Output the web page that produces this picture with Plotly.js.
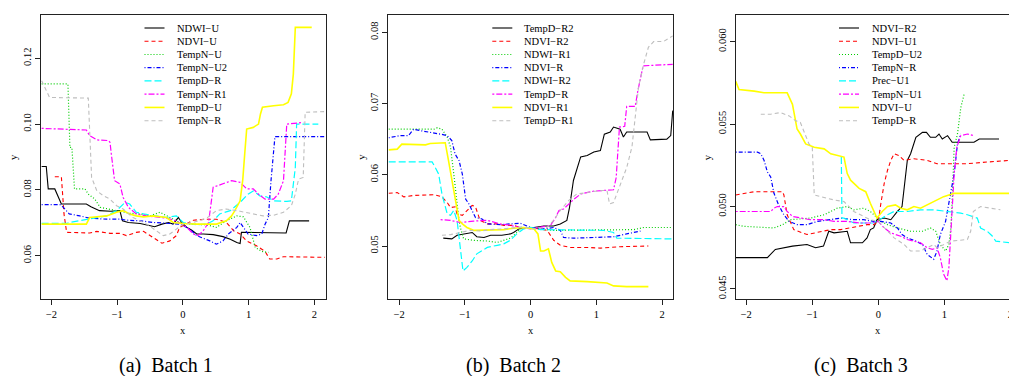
<!DOCTYPE html>
<html><head><meta charset="utf-8">
<script src="https://cdn.plot.ly/plotly-3.0.1.min.js"></script>
<style>html,body{margin:0;padding:0;overflow:hidden;background:#fff}#chart{width:1030px;height:376px}</style>
</head><body><div id="chart"></div>
<script>
// ---------- Batch 1 ----------
const b1Names = ["NDWI\u2212U","NDVI\u2212U","TempN\u2212U","TempN\u2212U2","TempD\u2212R","TempN\u2212R1","TempD\u2212U","TempN\u2212R"];
const b1_NDWI_U_x = [-2.15,-2.08,-2.05,-1.95,-1.85,-1.47,-1.40,-1.27,-1.10,-0.96,-0.92,-0.83,-0.65,-0.50,-0.43,-0.32,-0.22,-0.15,-0.07,-0.02,0.06,0.13,0.21,0.31,0.46,0.61,0.72,0.82,0.87,0.89,1.07,1.38,1.57,1.62,1.92];
const b1_NDWI_U_y = [0.0871,0.0871,0.0803,0.0803,0.0757,0.0757,0.0749,0.0737,0.0735,0.0737,0.0706,0.0701,0.0698,0.0691,0.0688,0.0696,0.0701,0.0696,0.0716,0.0701,0.0686,0.0678,0.0666,0.0666,0.0664,0.0658,0.0650,0.0640,0.0637,0.0671,0.0671,0.0669,0.0669,0.0706,0.0706];
const b1_NDVI_U_x = [-1.95,-1.85,-1.81,-1.77,-1.42,-1.31,-1.11,-0.96,-0.86,-0.71,-0.60,-0.45,-0.32,-0.20,-0.10,-0.05,0.06,0.16,0.36,0.51,0.66,0.77,0.87,0.97,1.12,1.25,1.32,1.43,1.53,2.16];
const b1_NDVI_U_y = [0.0840,0.0840,0.0727,0.0671,0.0669,0.0674,0.0668,0.0668,0.0661,0.0671,0.0674,0.0654,0.0638,0.0645,0.0661,0.0686,0.0698,0.0708,0.0711,0.0711,0.0701,0.0676,0.0666,0.0645,0.0630,0.0613,0.0590,0.0590,0.0597,0.0595];
const b1_TempN_U_x = [-2.15,-1.75,-1.72,-1.69,-1.65,-1.49,-1.44,-1.34,-1.26,-1.01,-0.81,-0.65,-0.50,-0.35,-0.25,-0.15,-0.05,0.11,0.36,0.51,0.66,0.82,0.92,1.02,1.10,1.20,1.30];
const b1_TempN_U_y = [0.1122,0.1122,0.0929,0.0929,0.0803,0.0803,0.0787,0.0772,0.0747,0.0737,0.0729,0.0727,0.0721,0.0732,0.0721,0.0711,0.0701,0.0696,0.0694,0.0686,0.0706,0.0721,0.0718,0.0686,0.0625,0.0613,0.0610];
const b1_TempN_U2_x = [-2.15,-1.87,-1.82,-1.73,-1.57,-1.42,-1.16,-0.96,-0.86,-0.65,-0.45,-0.25,-0.05,0.06,0.13,0.21,0.31,0.41,0.51,0.61,0.69,0.82,0.87,0.92,0.99,1.12,1.20,1.25,1.30,1.34,1.40,2.16];
const b1_TempN_U2_y = [0.0755,0.0755,0.0747,0.0727,0.0721,0.0714,0.0711,0.0711,0.0708,0.0706,0.0701,0.0698,0.0696,0.0686,0.0676,0.0661,0.0654,0.0645,0.0635,0.0645,0.0666,0.0686,0.0701,0.0686,0.0666,0.0661,0.0666,0.0696,0.0716,0.0828,0.0962,0.0962];
const b1_TempD_R_x = [-2.15,-1.77,-1.72,-1.52,-1.31,-1.16,-1.01,-0.88,-0.81,-0.71,-0.60,-0.40,-0.25,-0.10,0.005,0.21,0.36,0.46,0.56,0.72,0.87,0.99,1.07,1.17,1.27,1.38,1.58,1.65,1.71,1.73,2.06];
const b1_TempD_R_y = [0.0698,0.0698,0.0701,0.0708,0.0714,0.0721,0.0737,0.0762,0.0757,0.0732,0.0727,0.0721,0.0716,0.0721,0.0701,0.0694,0.0696,0.0706,0.0727,0.0737,0.0762,0.0787,0.0797,0.0782,0.0779,0.0767,0.0765,0.0767,0.0868,0.1000,0.1000];
const b1_TempN_R1_x = [-2.15,-1.47,-1.42,-1.31,-1.14,-1.11,-1.09,-1.04,-0.96,-0.91,-0.83,-0.71,-0.55,-0.35,-0.25,-0.10,0.06,0.16,0.23,0.31,0.39,0.46,0.59,0.74,0.87,0.97,1.07,1.15,1.25,1.38,1.45,1.53,1.58,1.83];
const b1_TempN_R1_y = [0.0987,0.0982,0.0965,0.0952,0.0950,0.0945,0.0909,0.0828,0.0818,0.0777,0.0747,0.0727,0.0721,0.0716,0.0714,0.0706,0.0686,0.0666,0.0661,0.0676,0.0701,0.0808,0.0818,0.0828,0.0823,0.0803,0.0803,0.0787,0.0772,0.0772,0.0787,0.0828,0.1000,0.1005];
const b1_TempD_U_x = [-2.15,-1.47,-1.42,-1.16,-1.01,-0.91,-0.81,-0.71,-0.60,-0.45,-0.25,-0.15,0.005,0.21,0.51,0.66,0.74,0.79,0.87,0.91,0.94,0.97,1.07,1.15,1.18,1.21,1.38,1.53,1.60,1.65,1.68,1.71,1.96];
const b1_TempD_U_y = [0.0696,0.0696,0.0716,0.0721,0.0732,0.0737,0.0727,0.0721,0.0718,0.0721,0.0716,0.0701,0.0698,0.0696,0.0696,0.0706,0.0721,0.0737,0.0767,0.0830,0.0909,0.0985,0.0990,0.1000,0.1031,0.1051,0.1056,0.1059,0.1066,0.1092,0.1152,0.1294,0.1294];
const b1_TempN_R_x = [-2.15,-2.03,-1.44,-1.42,-1.39,-1.31,-1.21,-1.11,-1.01,-0.91,-0.76,-0.55,-0.40,-0.30,-0.20,-0.10,0.005,0.16,0.36,0.51,0.66,0.87,1.07,1.22,1.38,1.53,1.65,1.71,1.76,1.83,1.86,2.16];
const b1_TempN_R_y = [0.1132,0.1081,0.1079,0.0980,0.0838,0.0797,0.0782,0.0772,0.0752,0.0742,0.0716,0.0696,0.0676,0.0661,0.0666,0.0681,0.0696,0.0701,0.0714,0.0737,0.0742,0.0735,0.0727,0.0721,0.0723,0.0732,0.0752,0.0787,0.0833,0.0838,0.1036,0.1038];

// ---------- Batch 2 ----------
const b2Names = ["TempD\u2212R2","NDVI\u2212R2","NDWI\u2212R1","NDVI\u2212R","NDWI\u2212R2","TempD\u2212R","NDVI\u2212R1","TempD\u2212R1"];
const b2_TempD_R2_x = [-1.33,-1.20,-1.12,-1.02,-0.89,-0.82,-0.71,-0.61,-0.44,-0.31,-0.26,-0.18,-0.11,0.05,0.20,0.35,0.45,0.55,0.59,0.65,0.70,0.76,0.86,0.96,1.06,1.12,1.21,1.26,1.36,1.41,1.46,1.77,1.82,2.07,2.13,2.16];
const b2_TempD_R2_y = [0.0511,0.0510,0.0515,0.0517,0.0519,0.0513,0.0512,0.0515,0.0515,0.0517,0.0519,0.0524,0.0526,0.0526,0.0528,0.0528,0.0531,0.0536,0.0554,0.0592,0.0606,0.0625,0.0627,0.0632,0.0634,0.0657,0.0660,0.0667,0.0664,0.0653,0.0660,0.0660,0.0649,0.0650,0.0655,0.0690];
const b2_NDVI_R2_x = [-2.16,-2.03,-1.93,-1.78,-1.47,-1.35,-1.27,-1.22,-1.15,-1.12,-1.04,-0.97,-0.89,-0.84,-0.77,-0.66,-0.51,-0.41,-0.26,-0.16,0,0.15,0.25,0.35,0.45,0.60,0.86,1.06,1.36,1.79];
const b2_NDVI_R2_y = [0.0574,0.0575,0.0569,0.0571,0.0572,0.0569,0.0561,0.0554,0.0555,0.0545,0.0543,0.0550,0.0557,0.0555,0.0536,0.0531,0.0531,0.0529,0.0529,0.0526,0.0525,0.0524,0.0522,0.0508,0.0501,0.0498,0.0498,0.0497,0.0499,0.0500];
const b2_NDWI_R1_x = [-2.16,-1.47,-1.42,-1.35,-1.27,-1.22,-1.17,-1.13,-1.09,-1.07,-1.02,-0.87,-0.66,-0.51,-0.41,-0.31,-0.23,-0.16,-0.06,0.10,0.35,0.55,0.76,1.06,1.36,1.57,1.72,2.16];
const b2_NDWI_R1_y = [0.0664,0.0664,0.0666,0.0664,0.0653,0.0639,0.0601,0.0564,0.0536,0.0526,0.0510,0.0508,0.0507,0.0505,0.0508,0.0511,0.0517,0.0524,0.0526,0.0524,0.0522,0.0522,0.0523,0.0523,0.0522,0.0523,0.0526,0.0526];
const b2_NDVI_R_x = [-2.16,-1.98,-1.86,-1.78,-1.68,-1.53,-1.37,-1.27,-1.20,-1.15,-1.09,-1.04,-0.99,-0.94,-0.89,-0.84,-0.74,-0.66,-0.46,-0.31,-0.16,0,0.20,0.35,0.45,0.50,0.65,0.96,1.26,1.46,1.67];
const b2_NDVI_R_y = [0.0652,0.0655,0.0655,0.0664,0.0662,0.0660,0.0657,0.0655,0.0648,0.0629,0.0620,0.0601,0.0566,0.0559,0.0550,0.0540,0.0538,0.0531,0.0530,0.0531,0.0532,0.0526,0.0524,0.0526,0.0522,0.0512,0.0511,0.0512,0.0513,0.0517,0.0521];
const b2_NDWI_R2_x = [-2.16,-1.50,-1.45,-1.40,-1.35,-1.27,-1.22,-1.17,-1.12,-1.07,-1.03,-0.97,-0.89,-0.82,-0.74,-0.66,-0.51,-0.41,-0.31,-0.21,-0.11,0,0.15,0.35,0.60,0.86,1.11,1.26,1.31,2.16];
const b2_NDWI_R2_y = [0.0618,0.0618,0.0610,0.0601,0.0573,0.0545,0.0543,0.0550,0.0536,0.0498,0.0465,0.0470,0.0479,0.0489,0.0493,0.0498,0.0501,0.0503,0.0508,0.0517,0.0524,0.0526,0.0523,0.0523,0.0523,0.0522,0.0522,0.0519,0.0511,0.0510];
const b2_TempD_R_x = [-1.37,-1.22,-1.07,-0.87,-0.66,-0.56,-0.46,-0.31,-0.16,-0.005,0.15,0.30,0.38,0.43,0.50,0.65,0.76,0.86,0.96,1.26,1.30,1.35,1.43,1.46,1.59,1.63,1.71,2.16];
const b2_TempD_R_y = [0.0537,0.0536,0.0533,0.0535,0.0536,0.0533,0.0531,0.0529,0.0526,0.0524,0.0526,0.0529,0.0540,0.0550,0.0552,0.0565,0.0573,0.0575,0.0577,0.0579,0.0596,0.0667,0.0668,0.0696,0.0696,0.0718,0.0753,0.0755];
const b2_NDVI_R1_x = [-2.16,-2.03,-1.96,-1.78,-1.60,-1.53,-1.30,-1.25,-1.20,-1.15,-1.09,-1.04,-0.97,-0.87,-0.56,-0.41,-0.26,-0.11,0.05,0.11,0.15,0.20,0.27,0.32,0.38,0.45,0.53,0.60,0.86,1.06,1.16,1.26,1.46,1.79];
const b2_NDVI_R1_y = [0.0635,0.0636,0.0643,0.0643,0.0642,0.0644,0.0645,0.0620,0.0592,0.0564,0.0536,0.0531,0.0526,0.0522,0.0522,0.0523,0.0525,0.0526,0.0524,0.0517,0.0493,0.0493,0.0496,0.0477,0.0465,0.0464,0.0456,0.0451,0.0450,0.0449,0.0448,0.0444,0.0443,0.0443];
const b2_TempD_R1_x = [-1.35,-1.22,-1.12,-0.92,-0.77,-0.61,-0.41,-0.26,-0.11,0.05,0.25,0.35,0.45,0.58,0.70,0.86,1.06,1.16,1.20,1.26,1.31,1.39,1.46,1.54,1.59,1.64,1.72,1.79,1.87,2.02,2.16];
const b2_TempD_R1_y = [0.0515,0.0516,0.0518,0.0522,0.0521,0.0523,0.0524,0.0526,0.0527,0.0524,0.0526,0.0536,0.0550,0.0564,0.0573,0.0575,0.0578,0.0578,0.0559,0.0561,0.0573,0.0592,0.0610,0.0639,0.0685,0.0723,0.0756,0.0779,0.0787,0.0787,0.0795];

// ---------- Batch 3 ----------
const b3Names = ["NDVI\u2212R2","NDVI\u2212U1","TempD\u2212U2","TempN\u2212R","Prec\u2212U1","TempN\u2212U1","NDVI\u2212U","TempD\u2212R"];
const b3_NDVI_R2_x = [-2.16,-1.68,-1.56,-1.43,-1.30,-1.08,-0.95,-0.83,-0.75,-0.67,-0.52,-0.47,-0.42,-0.24,-0.17,-0.12,-0.07,-0.02,0.09,0.19,0.29,0.36,0.44,0.49,0.57,0.67,0.73,0.79,0.87,0.92,0.97,1.05,1.12,1.45,1.53,1.83];
const b3_NDVI_R2_y = [0.0469,0.0469,0.0474,0.0475,0.0476,0.0477,0.0475,0.0476,0.0485,0.0484,0.0485,0.0485,0.0478,0.0478,0.0481,0.0486,0.0487,0.0492,0.0493,0.0492,0.0497,0.0500,0.0528,0.0532,0.0542,0.0545,0.0545,0.0542,0.0542,0.0544,0.0541,0.0543,0.0539,0.0539,0.0541,0.0541];
const b3_NDVI_U1_x = [-2.16,-1.88,-1.45,-1.43,-1.38,-1.28,-1.08,-0.87,-0.72,-0.57,-0.42,-0.17,-0.07,0,0.04,0.09,0.14,0.19,0.24,0.31,0.39,0.54,0.74,0.89,1.05,1.35,1.65,2.0];
const b3_NDVI_U1_y = [0.0507,0.0509,0.0509,0.0507,0.0495,0.0486,0.0483,0.0485,0.0486,0.0486,0.0487,0.0489,0.0489,0.0491,0.0502,0.0514,0.0522,0.0528,0.0532,0.0531,0.0528,0.0529,0.0528,0.0526,0.0526,0.0526,0.0527,0.0528];
const b3_TempD_U2_x = [-2.16,-2.04,-1.58,-1.45,-1.33,-1.03,-0.82,-0.62,-0.47,-0.37,-0.22,-0.12,-0.04,0.04,0.14,0.29,0.49,0.67,0.79,0.87,0.94,1.02,1.07,1.10,1.12,1.15,1.20,1.25,1.30];
const b3_TempD_U2_y = [0.0489,0.0488,0.0487,0.0489,0.0492,0.0493,0.0495,0.0499,0.0500,0.0498,0.0499,0.0497,0.0494,0.0491,0.0489,0.0487,0.0485,0.0485,0.0487,0.0485,0.0477,0.0473,0.0477,0.0487,0.0504,0.0536,0.0544,0.0560,0.0568];
const b3_TempN_R_x = [-2.16,-1.83,-1.78,-1.73,-1.68,-1.63,-1.58,-1.51,-1.43,-1.35,-1.23,-1.08,-0.92,-0.72,-0.57,-0.37,-0.22,-0.07,0.04,0.19,0.29,0.36,0.44,0.57,0.67,0.74,0.84,0.89,0.94,1.02,1.10,1.15,1.20,1.25];
const b3_TempN_R_y = [0.0533,0.0533,0.0532,0.0528,0.0521,0.0518,0.0508,0.0501,0.0495,0.0491,0.0489,0.0489,0.0491,0.0492,0.0493,0.0492,0.0492,0.0491,0.0491,0.0490,0.0487,0.0483,0.0481,0.0479,0.0477,0.0471,0.0468,0.0473,0.0483,0.0491,0.0508,0.0520,0.0538,0.0544];
const b3_Prec_U1_x = [-0.56,-0.55,-0.52,-0.37,-0.22,-0.07,0,0.06,0.14,0.24,0.44,0.64,0.84,1.05,1.25,1.35,1.50,1.55,1.65,1.73,1.78,2.0];
const b3_Prec_U1_y = [0.0530,0.0493,0.0493,0.0490,0.0490,0.0490,0.0492,0.0493,0.0495,0.0497,0.0497,0.0498,0.0498,0.0497,0.0496,0.0495,0.0493,0.0487,0.0485,0.0482,0.0479,0.0478];
const b3_TempN_U1_x = [-2.16,-1.63,-1.58,-1.53,-1.43,-1.38,-1.30,-1.18,-1.03,-0.82,-0.67,-0.47,-0.27,-0.12,0,0.09,0.19,0.34,0.44,0.54,0.64,0.74,0.82,0.89,0.94,0.99,1.04,1.07,1.11,1.15,1.19,1.25,1.35,1.45];
const b3_TempN_U1_y = [0.0497,0.0497,0.0499,0.0500,0.0500,0.0497,0.0494,0.0493,0.0492,0.0492,0.0491,0.0491,0.0490,0.0490,0.0491,0.0487,0.0484,0.0482,0.0480,0.0479,0.0478,0.0475,0.0474,0.0475,0.0469,0.0459,0.0455,0.0463,0.0491,0.0520,0.0536,0.0543,0.0544,0.0543];
const b3_NDVI_U_x = [-2.16,-2.11,-1.88,-1.73,-1.58,-1.38,-1.30,-1.23,-1.18,-1.10,-0.97,-0.82,-0.72,-0.60,-0.52,-0.47,-0.42,-0.29,-0.19,-0.12,-0.02,0.06,0.14,0.26,0.34,0.44,0.54,0.64,0.74,0.89,0.99,1.15,1.35,2.0];
const b3_NDVI_U_y = [0.0576,0.0571,0.0570,0.0569,0.0569,0.0569,0.0562,0.0547,0.0544,0.0538,0.0536,0.0535,0.0532,0.0531,0.0530,0.0520,0.0516,0.0511,0.0509,0.0502,0.0493,0.0497,0.0500,0.0501,0.0499,0.0498,0.0500,0.0499,0.0501,0.0504,0.0506,0.0508,0.0508,0.0508];
const b3_TempD_R_x = [-1.78,-1.63,-1.48,-1.35,-1.25,-1.18,-1.13,-1.05,-1.00,-0.97,-0.87,-0.77,-0.67,-0.52,-0.47,-0.37,-0.27,-0.12,0,0.09,0.24,0.39,0.49,0.64,0.74,0.84,0.89,0.99,1.10,1.35,1.40,1.44,1.55,1.70,1.85];
const b3_TempD_R_y = [0.0556,0.0556,0.0557,0.0555,0.0552,0.0551,0.0546,0.0538,0.0536,0.0507,0.0506,0.0505,0.0504,0.0503,0.0501,0.0497,0.0495,0.0492,0.0491,0.0487,0.0481,0.0477,0.0473,0.0473,0.0475,0.0477,0.0475,0.0477,0.0479,0.0480,0.0485,0.0497,0.0500,0.0499,0.0498];

// ---------- axes ticks / captions ----------
const xTickVals = [-2,-1,0,1,2];
const b1YTickVals = [0.06,0.08,0.10,0.12];
const b1YTickText = ["0.06","0.08","0.10","0.12"];
const b2YTickVals = [0.05,0.06,0.07,0.08];
const b2YTickText = ["0.05","0.06","0.07","0.08"];
const b3YTickVals = [0.045,0.050,0.055,0.060];
const b3YTickText = ["0.045","0.050","0.055","0.060"];
const captions = ["(a)\u00a0\u00a0Batch 1","(b)\u00a0\u00a0Batch 2","(c)\u00a0\u00a0Batch 3"];

// ---------- styles (R default palette / lty cycle) ----------
const colors = ["#000000","#FF0000","#00CD00","#0000FF","#00FFFF","#FF00FF","#FFFF00","#BEBEBE"];
const dashes = ["solid","4px,3px","1px,2px","1px,2px,4px,2px","7px,3px","2px,2px,6px,2px","solid","4px,3px"];
const widths = [1.1,1.1,1.2,1.2,1.2,1.2,1.6,1.1];

const series = [
  [[b1_NDWI_U_x,b1_NDWI_U_y],[b1_NDVI_U_x,b1_NDVI_U_y],[b1_TempN_U_x,b1_TempN_U_y],[b1_TempN_U2_x,b1_TempN_U2_y],[b1_TempD_R_x,b1_TempD_R_y],[b1_TempN_R1_x,b1_TempN_R1_y],[b1_TempD_U_x,b1_TempD_U_y],[b1_TempN_R_x,b1_TempN_R_y]],
  [[b2_TempD_R2_x,b2_TempD_R2_y],[b2_NDVI_R2_x,b2_NDVI_R2_y],[b2_NDWI_R1_x,b2_NDWI_R1_y],[b2_NDVI_R_x,b2_NDVI_R_y],[b2_NDWI_R2_x,b2_NDWI_R2_y],[b2_TempD_R_x,b2_TempD_R_y],[b2_NDVI_R1_x,b2_NDVI_R1_y],[b2_TempD_R1_x,b2_TempD_R1_y]],
  [[b3_NDVI_R2_x,b3_NDVI_R2_y],[b3_NDVI_U1_x,b3_NDVI_U1_y],[b3_TempD_U2_x,b3_TempD_U2_y],[b3_TempN_R_x,b3_TempN_R_y],[b3_Prec_U1_x,b3_Prec_U1_y],[b3_TempN_U1_x,b3_TempN_U1_y],[b3_NDVI_U_x,b3_NDVI_U_y],[b3_TempD_R_x,b3_TempD_R_y]]
];
const names = [b1Names,b2Names,b3Names];

// ---------- layout geometry (pixels) ----------
const W = 1030, H = 376;
const PX = v => v / W, PY = v => 1 - v / H;
const panels = [
  {dom:[41,326],   xr:[-2.16,2.177], yr:[0.04684,0.13316], tv:b1YTickVals, tt:b1YTickText, lx:144.5, tx:174.5, ylab:13,    xlab:183,   cap:165.5},
  {dom:[388.3,673.3], xr:[-2.166,2.169], yr:[0.04256,0.08243], tv:b2YTickVals, tt:b2YTickText, lx:492.3, tx:522.3, ylab:360.7, xlab:530.7, cap:513.5},
  {dom:[735.7,1021.5], xr:[-2.16,2.17], yr:[0.04439,0.06162], tv:b3YTickVals, tt:b3YTickText, lx:839, tx:869.5, ylab:707.3, xlab:878.3, cap:861}
];
const FONT = "Liberation Serif";
const axisCol = "#222";

const traces = [];
const layout = {
  width: W, height: H, margin:{l:0,r:0,t:0,b:0}, paper_bgcolor:"#fff", plot_bgcolor:"#fff",
  showlegend:false, font:{family:FONT, size:10, color:"#000"},
  shapes:[], annotations:[]
};

panels.forEach((p, i) => {
  const sfx = i === 0 ? "" : String(i + 1);
  const xa = "x" + sfx, ya = "y" + sfx;
  series[i].forEach((s, k) => {
    traces.push({type:"scatter", mode:"lines", x:s[0], y:s[1], xaxis:xa, yaxis:ya,
      name:names[i][k], line:{color:colors[k], width:widths[k], dash:dashes[k]}, hoverinfo:"skip"});
  });
  layout["xaxis" + sfx] = {domain:[PX(p.dom[0]), PX(p.dom[1])], range:p.xr, anchor:ya,
    showgrid:false, zeroline:false, showline:true, mirror:true, linecolor:axisCol, linewidth:1,
    ticks:"outside", ticklen:5, tickwidth:1, tickcolor:axisCol, tickvals:xTickVals,
    tickfont:{family:FONT, size:10.5, color:"#000"}};
  layout["yaxis" + sfx] = {domain:[PY(299), PY(15)], range:p.yr, anchor:xa,
    showgrid:false, zeroline:false, showline:true, mirror:true, linecolor:axisCol, linewidth:1,
    ticks:"outside", ticklen:5, tickwidth:1, tickcolor:axisCol, tickvals:p.tv, ticktext:p.tt,
    tickangle:-90, tickfont:{family:FONT, size:10.5, color:"#000"}};
  // legend (manual, R style)
  names[i].forEach((nm, k) => {
    const yy = 28 + 13.24 * k;
    layout.shapes.push({type:"line", xref:"paper", yref:"paper", x0:PX(p.lx), x1:PX(p.lx + 20), y0:PY(yy), y1:PY(yy),
      line:{color:colors[k], width:widths[k], dash:dashes[k]}});
    layout.annotations.push({xref:"paper", yref:"paper", x:PX(p.tx), y:PY(yy), text:nm, showarrow:false,
      xanchor:"left", yanchor:"middle", font:{family:FONT, size:10.5, color:"#000"}});
  });
  layout.annotations.push({xref:"paper", yref:"paper", x:PX(p.xlab), y:PY(330), text:"x", showarrow:false,
    xanchor:"center", yanchor:"middle", font:{family:FONT, size:10.5, color:"#000"}});
  layout.annotations.push({xref:"paper", yref:"paper", x:PX(p.ylab), y:PY(157), text:"y", showarrow:false, textangle:-90,
    xanchor:"center", yanchor:"middle", font:{family:FONT, size:10.5, color:"#000"}});
  layout.annotations.push({xref:"paper", yref:"paper", x:PX(p.cap), y:PY(365), text:captions[i], showarrow:false,
    xanchor:"center", yanchor:"middle", font:{family:FONT, size:20, color:"#000"}});
});

Plotly.newPlot("chart", traces, layout, {staticPlot:true, displayModeBar:false});
</script></body></html>
